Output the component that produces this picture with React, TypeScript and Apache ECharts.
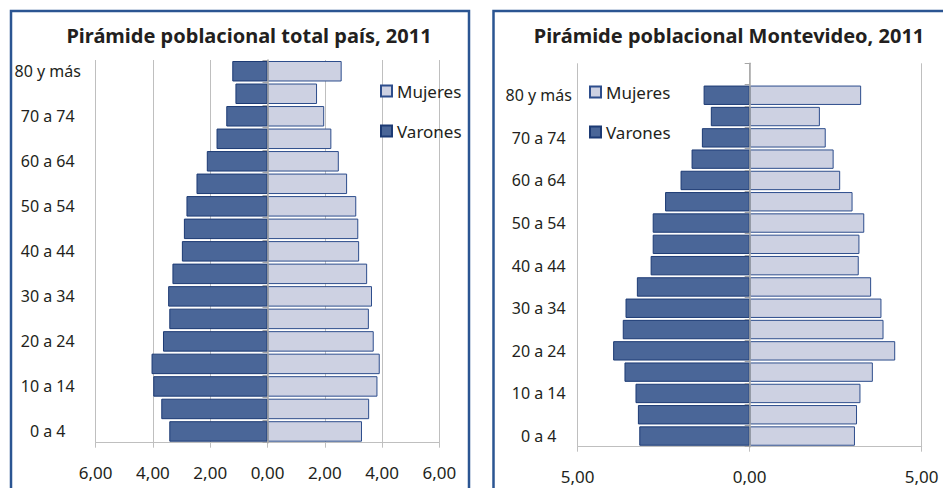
import React, { useEffect, useRef } from "react";
import * as echarts from "echarts";

const categories = ["0 a 4","5 a 9","10 a 14","15 a 19","20 a 24","25 a 29","30 a 34","35 a 39","40 a 44","45 a 49","50 a 54","55 a 59","60 a 64","65 a 69","70 a 74","75 a 79","80 y más"];
const paisVarones = [3.43,3.71,3.99,4.05,3.65,3.43,3.47,3.32,2.99,2.92,2.83,2.48,2.12,1.78,1.44,1.12,1.23];
const paisMujeres = [3.30,3.55,3.84,3.92,3.71,3.54,3.65,3.48,3.20,3.17,3.10,2.78,2.49,2.23,1.98,1.73,2.59];
const mvdVarones = [3.21,3.25,3.32,3.64,3.97,3.69,3.61,3.28,2.88,2.82,2.82,2.46,2.01,1.69,1.39,1.13,1.34];
const mvdMujeres = [3.06,3.12,3.22,3.58,4.23,3.89,3.83,3.53,3.17,3.19,3.33,2.99,2.63,2.44,2.21,2.04,3.24];
const titles = ["Pirámide poblacional total país, 2011", "Pirámide poblacional Montevideo, 2011"];
const seriesNames = ["Mujeres", "Varones"];

const FONT = "Noto Sans";
const GRID = "#bfbfbf";
const TXT = "#231f20";
const VAR_FILL = "#4a6698";
const VAR_BORDER = "#1c3a74";
const MUJ_FILL = "#cdd1e2";
const MUJ_BORDER = "#2d4d8c";
const FRAME = "#2b5592";

const fmt = (v: number) => Math.abs(v).toFixed(2).replace(".", ",");

export default function App() {
  const ref = useRef<HTMLDivElement>(null);
  useEffect(() => {
    document.body.style.margin = "0";
    const chart = echarts.init(ref.current!, null, { renderer: "svg" });
    const mvdCats = [...categories, ""];
    const xAxisBase = (gridIndex: number, lim: number, step: number) => ({
      type: "value",
      gridIndex,
      min: -lim,
      max: lim,
      interval: step,
      axisLine: { show: true, onZero: false, lineStyle: { color: GRID, width: 1 } },
      axisTick: { show: true, length: 5, lineStyle: { color: GRID } },
      splitLine: { show: true, lineStyle: { color: GRID, width: 1 } },
      axisLabel: { formatter: fmt, fontFamily: FONT, fontSize: 17, color: TXT, margin: 21 },
    });
    const zeroAxis = (gridIndex: number, data: string[]) => ({
      type: "category",
      gridIndex,
      data,
      z: 5,
      axisLine: { show: true, onZero: true, lineStyle: { color: "#a6a6a6", width: 1.5 } },
      axisTick: { show: true, length: 5, lineStyle: { color: "#a6a6a6" } },
      axisLabel: { show: false },
      splitLine: { show: false },
    });
    const labelAxis = (gridIndex: number, data: string[], margin: number) => ({
      type: "category",
      gridIndex,
      data,
      position: "left",
      axisLine: { show: false, onZero: false },
      axisTick: { show: false },
      axisLabel: { interval: 1, align: "center", margin, fontFamily: FONT, fontSize: 16, color: TXT },
    });
    const mk = (name: string, data: number[], xi: number, yi: number, stack: string) => ({
      name,
      type: "bar",
      xAxisIndex: xi,
      yAxisIndex: yi,
      stack,
      data,
      barCategoryGap: "9%",
      itemStyle: name === "Mujeres"
        ? { color: MUJ_FILL, borderColor: MUJ_BORDER, borderWidth: 1 }
        : { color: VAR_FILL, borderColor: VAR_BORDER, borderWidth: 1 },
    });
    const legend = (left: number, top: number) => ({
      data: seriesNames,
      orient: "vertical",
      left,
      top,
      padding: 0,
      icon: "rect",
      itemWidth: 11,
      itemHeight: 11,
      itemGap: 22,
      textStyle: { fontFamily: FONT, fontSize: 17, color: TXT, lineHeight: 18 },
    });
    chart.setOption({
      animation: false,
      title: [
        { text: titles[0], left: 244, top: 20, textAlign: "center", textStyle: { fontFamily: FONT, fontWeight: "bold", fontSize: 20, color: TXT } },
        { text: titles[1], left: 724, top: 20, textAlign: "center", textStyle: { fontFamily: FONT, fontWeight: "bold", fontSize: 20, color: TXT } },
      ],
      legend: [legend(380, 82), legend(589, 83)],
      grid: [
        { left: 95.7, right: 943 - 439.3, top: 60, bottom: 488 - 442.7 },
        { left: 577.7, right: 943 - 921.7, top: 63.3, bottom: 488 - 446.7 },
      ],
      xAxis: [xAxisBase(0, 6, 2), xAxisBase(1, 5, 5)],
      yAxis: [
        zeroAxis(0, categories),
        labelAxis(0, categories, 48),
        zeroAxis(1, mvdCats),
        labelAxis(1, mvdCats, 39),
      ],
      series: [
        mk("Mujeres", paisMujeres, 0, 0, "a"),
        mk("Varones", paisVarones.map((v) => -v), 0, 0, "a"),
        mk("Mujeres", mvdMujeres, 1, 2, "b"),
        mk("Varones", mvdVarones.map((v) => -v), 1, 2, "b"),
      ],
      graphic: [
        { type: "rect", shape: { x: 11, y: 11, width: 458, height: 500 }, style: { fill: "none", stroke: FRAME, lineWidth: 2.5 } },
        { type: "rect", shape: { x: 493.5, y: 11, width: 480, height: 500 }, style: { fill: "none", stroke: FRAME, lineWidth: 2.5 } },
      ],
    });
    return () => chart.dispose();
  }, []);
  return <div ref={ref} style={{ width: 943, height: 488 }} />;
}
